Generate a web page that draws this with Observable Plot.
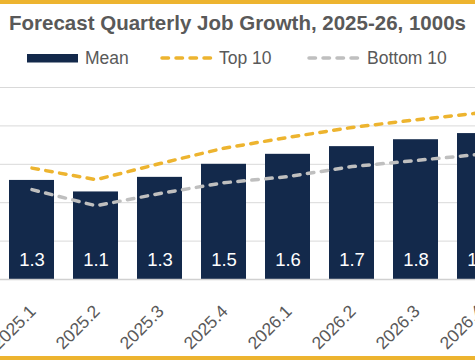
<!DOCTYPE html>
<html><head><meta charset="utf-8">
<script src="https://cdn.jsdelivr.net/npm/d3@7"></script>
<script src="https://cdn.jsdelivr.net/npm/@observablehq/plot@0.6"></script>
<style>
body{margin:0;background:#fff;}
#wrap{position:relative;width:475px;height:360px;overflow:hidden;background:#fff;font-family:"Liberation Sans",Arial,sans-serif;}
#chart{position:absolute;left:0;top:0;width:475px;height:360px;overflow:hidden;}
#chart svg{overflow:hidden;}
.bar{position:absolute;left:0;width:475px;background:#EDB42F;}
#title{position:absolute;left:0;top:11px;width:475px;line-height:24px;text-align:center;font-weight:bold;font-size:20.5px;color:#595959;white-space:nowrap;}
.lg{position:absolute;top:48px;line-height:20px;font-size:17.5px;color:#595959;white-space:nowrap;}
.sw{position:absolute;}
</style>
</head><body>
<div id="wrap">
  <div id="chart"></div>
  <div class="bar" style="top:0;height:3.5px"></div>
  <div class="bar" style="bottom:0;height:4px"></div>
  <div id="title">Forecast Quarterly Job Growth, 2025-26, 1000s</div>
  <div id="legend"></div>
</div>
<script>
const quarters = ["2025.1","2025.2","2025.3","2025.4","2026.1","2026.2","2026.3","2026.4"];
const meanValues = [1.29,1.14,1.33,1.50,1.63,1.73,1.82,1.90];
const top10Values = [1.45,1.30,1.51,1.71,1.85,1.98,2.08,2.17];
const bottom10Values = [1.17,0.96,1.12,1.26,1.34,1.47,1.55,1.63];
const gridTicks = [0.5,1,1.5,2,2.5];
const seriesNames = ["Mean","Top 10","Bottom 10"];

const NAVY = "#13294B", GOLD = "#EDB42F", GREY = "#BFBFBF", TEXT = "#595959";
const fmt = d3.format(".1f");
const data = quarters.map((q,i)=>({q, mean:meanValues[i], top:top10Values[i], bottom:bottom10Values[i]}));

const dash = {strokeWidth:3.5, strokeDasharray:"6.5,7.5", strokeLinecap:"round", strokeLinejoin:"round"};
const plot = Plot.plot({
  width:475, height:360, marginTop:87, marginBottom:81, marginLeft:0, marginRight:0,
  x:{domain:quarters, range:[-12.1,522.6], padding:0.29, axis:null},
  y:{domain:[0,2.5], axis:null},
  style:{fontFamily:"'Liberation Sans', Arial, sans-serif", background:"transparent"},
  marks:[
    Plot.ruleY(gridTicks, {stroke:"#d9d9d9", strokeWidth:1}),
    Plot.barY(data, {x:"q", y:"mean", fill:NAVY}),
    Plot.ruleY([0], {stroke:"#d0d0d0", strokeWidth:1.5}),
    Plot.lineY(data, {x:"q", y:"bottom", stroke:GREY, ...dash}),
    Plot.lineY(data, {x:"q", y:"top", stroke:GOLD, ...dash}),
    Plot.text(data, {x:"q", y:0, text:d=>fmt(d.mean), dy:-19, fill:"white", fontSize:18.5}),
    Plot.text(data, {x:"q", y:0, text:"q", rotate:-45, textAnchor:"end", dy:29, dx:1, fill:TEXT, fontSize:17.5})
  ]
});
document.getElementById("chart").appendChild(plot);

// legend
const lg = document.getElementById("legend");
const items = [
  {name:seriesNames[0], type:"rect", color:NAVY, sx:27, tx:85},
  {name:seriesNames[1], type:"dash", color:GOLD, sx:158, tx:219},
  {name:seriesNames[2], type:"dash", color:GREY, sx:305, tx:367}
];
for (const it of items) {
  const s = document.createElementNS("http://www.w3.org/2000/svg","svg");
  s.setAttribute("class","sw");
  s.setAttribute("width","58"); s.setAttribute("height","12");
  s.style.left = it.sx + "px"; s.style.top = "52px"; s.style.position="absolute";
  if (it.type === "rect") {
    s.innerHTML = `<rect x="0" y="2" width="51" height="8.5" fill="${it.color}"/>`;
  } else {
    s.innerHTML = `<line x1="4" x2="56" y1="6" y2="6" stroke="${it.color}" stroke-width="3.5" stroke-dasharray="6.5,7.5" stroke-linecap="round"/>`;
  }
  lg.appendChild(s);
  const t = document.createElement("div");
  t.className = "lg"; t.style.left = it.tx + "px"; t.textContent = it.name;
  lg.appendChild(t);
}
</script>
</body></html>
